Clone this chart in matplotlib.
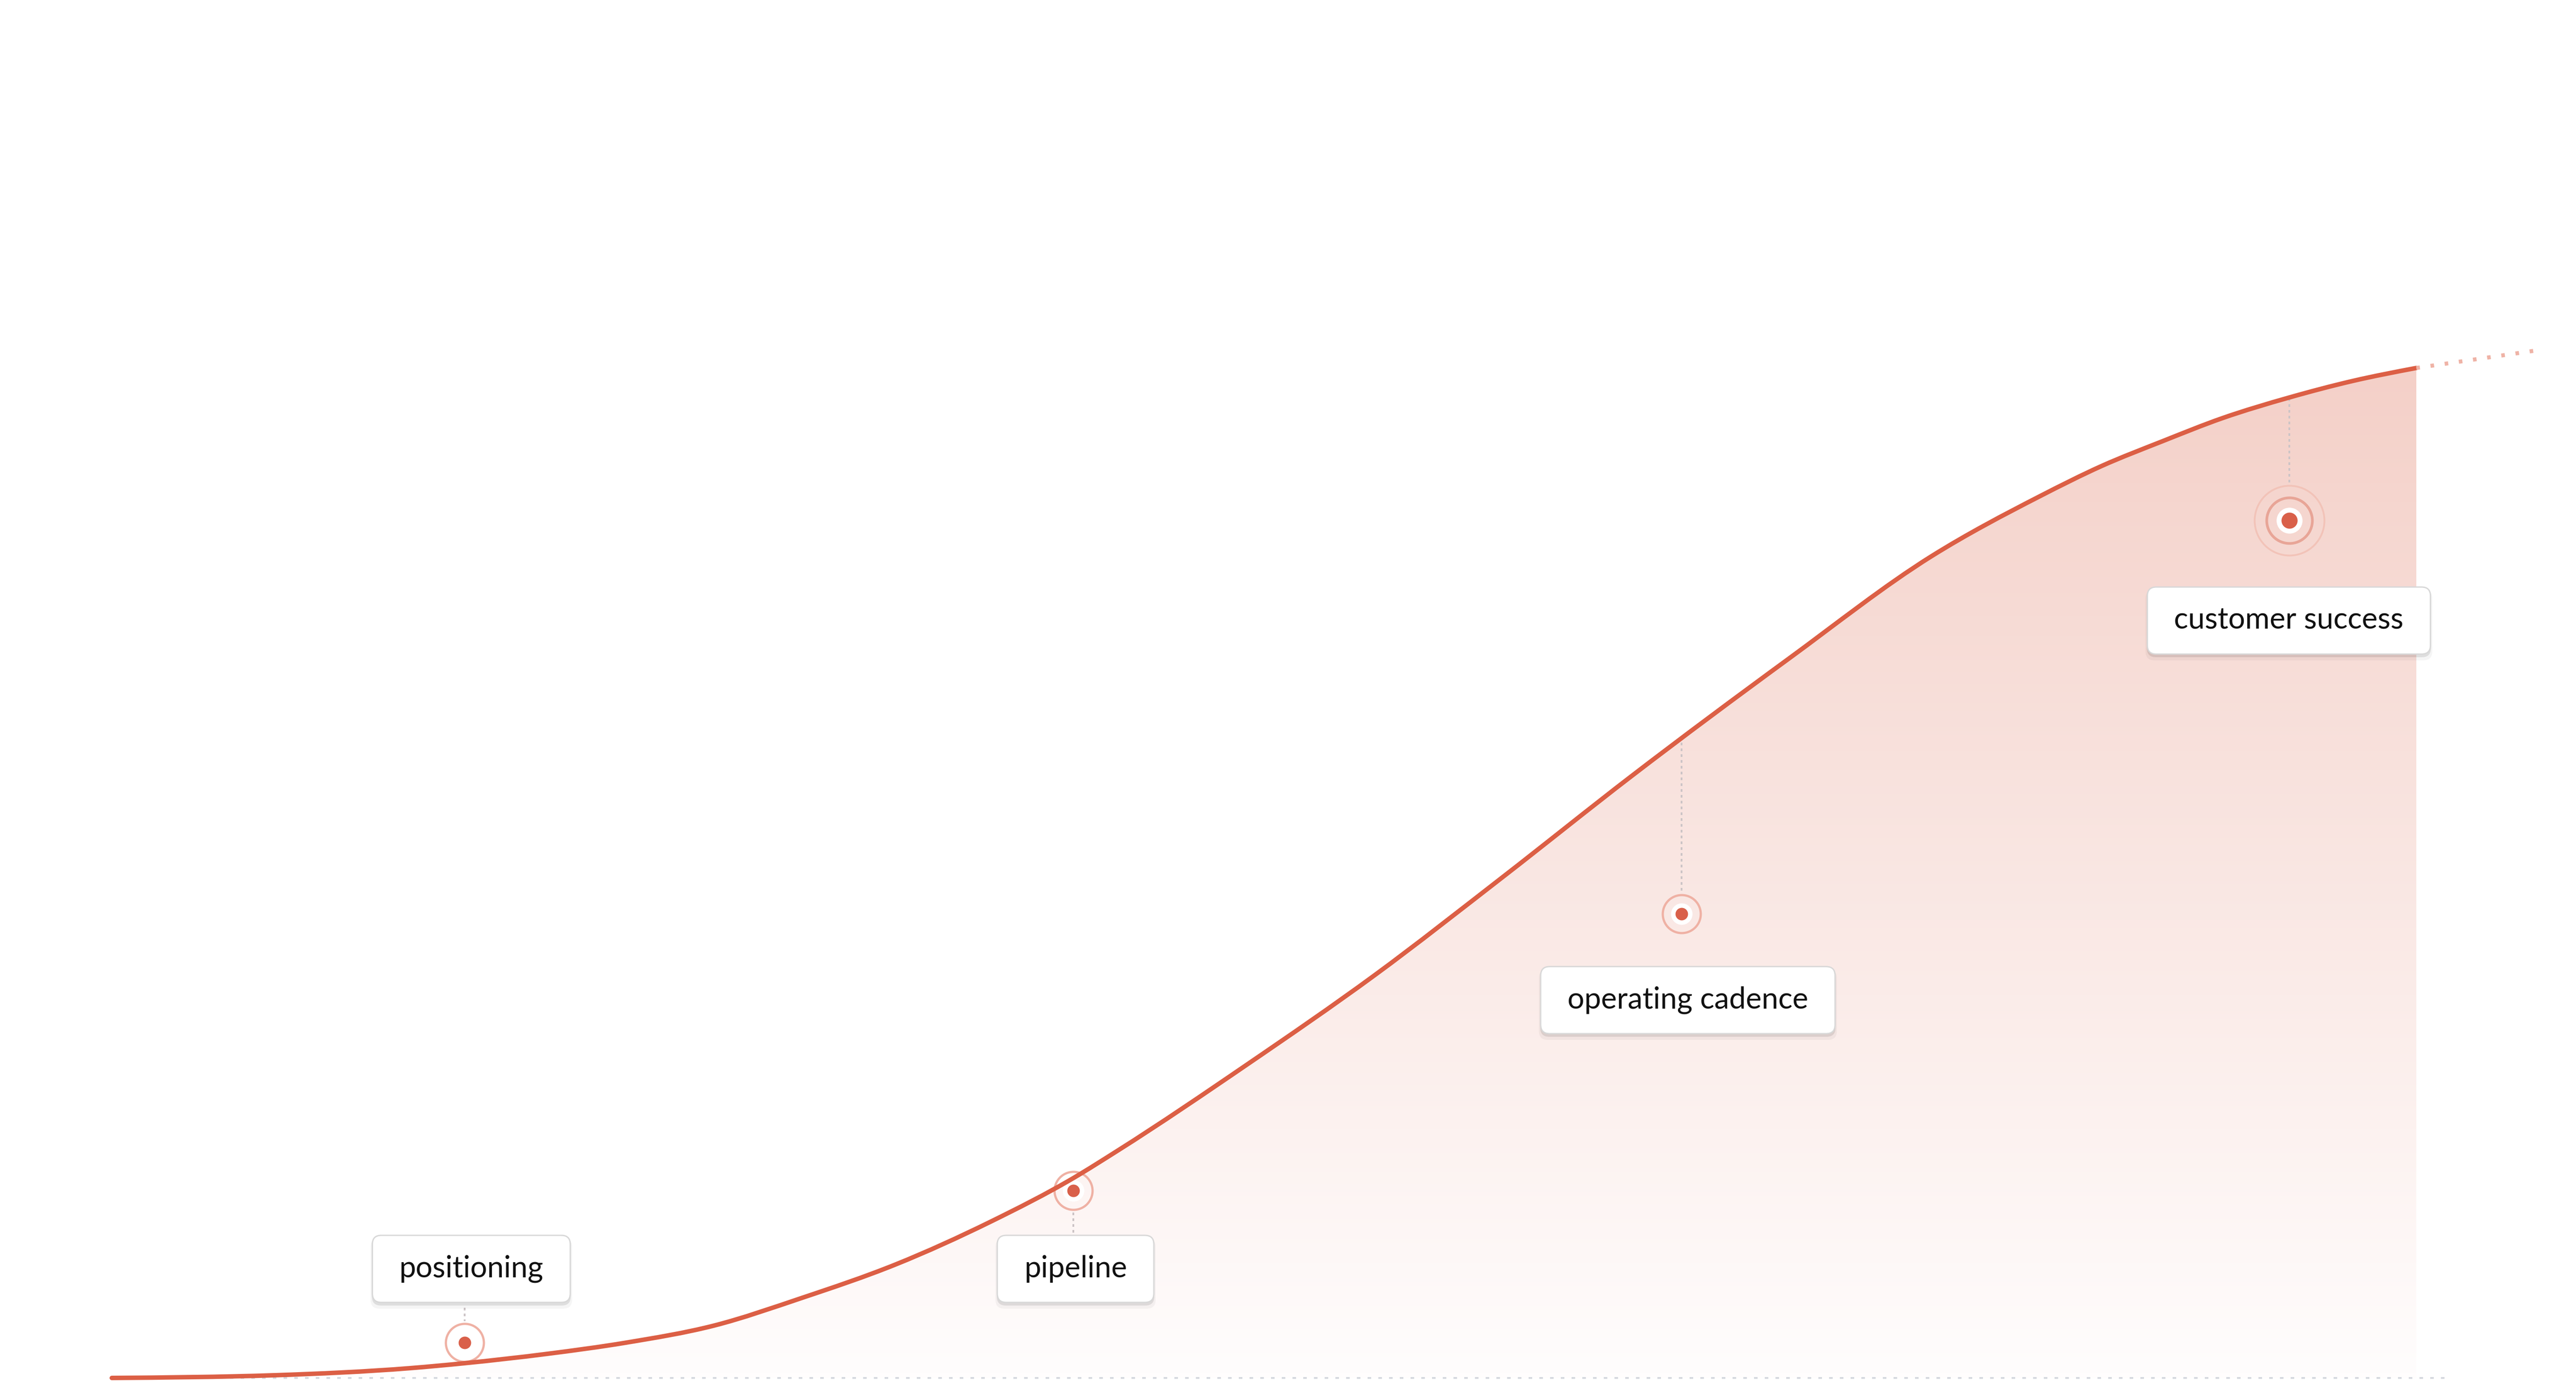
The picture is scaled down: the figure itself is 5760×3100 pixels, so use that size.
import numpy as np
import matplotlib
matplotlib.use("Agg")
import matplotlib.pyplot as plt
from matplotlib.path import Path
from matplotlib.patches import PathPatch, FancyBboxPatch
from matplotlib.transforms import IdentityTransform
from matplotlib.colors import LinearSegmentedColormap

plt.rcParams['font.family'] = ['Lato', 'DejaVu Sans']
plt.rcParams['lines.scale_dashes'] = False

# ---------------- data ----------------
curve_x = [0, 7.025, 12.963, 15.311, 18.902, 22.317, 26.121, 29.944, 34.019,
           38.114, 41.723, 43.664, 49.233, 54.803, 60.373, 65.942, 72.773,
           78.964, 83.660, 86.357, 88.977, 91.597, 94.489, 97.244, 100]
curve_y = [0, 0.266, 0.974, 1.461, 2.390, 3.497, 5.179, 7.924, 11.244,
           15.449, 19.788, 22.532, 30.987, 39.885, 49.624, 59.584, 71.226,
           81.364, 87.296, 90.306, 92.740, 95.042, 97.078, 98.716, 100]

proj_x = [100, 105.1]
proj_y = [100, 101.7]

baseline_x = [0, 101.5]
baseline_y = [0, 0]

labels = ['positioning', 'pipeline', 'operating cadence', 'customer success']
marker_x = [15.31, 41.72, 68.12, 94.49]
marker_y = [3.50, 18.55, 45.95, 84.91]
label_x = [15.60, 41.82, 68.39, 94.47]
label_y = [10.80, 10.80, 37.41, 74.99]
leader_top = [6.95, 16.38, 62.9, 97.0]
leader_bot = [5.62, 14.25, 47.94, 88.53]
highlight = [False, False, False, True]

# ---------------- styling ----------------
W, H = 5760, 3100
DPI = 300
PX = 72.0 / DPI  # points per pixel

LINE = '#DC5F45'
DOT = '#D9604A'
RING = '#EFB1A4'
RING_MID = '#E8A597'
RING_OUT = '#F2C3B8'

fig = plt.figure(figsize=(W / DPI, H / DPI), dpi=DPI)
fig.patch.set_facecolor('white')
ax = fig.add_axes([250 / W, 18 / H, 5153 / W, 2259 / H])
ax.set_xlim(0, 100)
ax.set_ylim(0, 100)
ax.axis('off')


def monotone_tangents(x, y):
    x = np.asarray(x, float)
    y = np.asarray(y, float)
    n = len(x)
    h = np.diff(x)
    s = np.diff(y) / h
    m = np.zeros(n)
    for i in range(1, n - 1):
        p = (s[i - 1] * h[i] + s[i] * h[i - 1]) / (h[i - 1] + h[i])
        m[i] = (np.sign(s[i - 1]) + np.sign(s[i])) * min(abs(s[i - 1]), abs(s[i]), 0.5 * abs(p))
    m[0] = (3 * s[0] - m[1]) / 2
    m[-1] = (3 * s[-1] - m[-2]) / 2
    return m


def bezier_path(x, y):
    m = monotone_tangents(x, y)
    verts = [(x[0], y[0])]
    codes = [Path.MOVETO]
    for i in range(len(x) - 1):
        h = x[i + 1] - x[i]
        verts += [(x[i] + h / 3, y[i] + m[i] * h / 3),
                  (x[i + 1] - h / 3, y[i + 1] - m[i + 1] * h / 3),
                  (x[i + 1], y[i + 1])]
        codes += [Path.CURVE4] * 3
    return verts, codes


verts, codes = bezier_path(curve_x, curve_y)

# gradient fill under the curve
fill_verts = verts + [(curve_x[-1], 0), (curve_x[0], 0), (curve_x[0], 0)]
fill_codes = codes + [Path.LINETO, Path.LINETO, Path.CLOSEPOLY]
fill_patch = PathPatch(Path(fill_verts, fill_codes), facecolor='none',
                       edgecolor='none', transform=ax.transData)
cmap = LinearSegmentedColormap.from_list('g', ['#FFFDFD', '#F4D0C8'])
grad = np.linspace(0, 1, 512).reshape(-1, 1)
im = ax.imshow(grad, extent=[0, 100, 0, 100], origin='lower', cmap=cmap,
               aspect='auto', interpolation='bilinear', zorder=1)
im.set_clip_path(fill_patch)

# dashed baseline
ax.plot(baseline_x, baseline_y, color='#D5D8DE', lw=4 * PX,
        dashes=(8 * PX, 16 * PX), dash_capstyle='butt', zorder=2, clip_on=False)

# leader lines
for x, y0, y1 in zip(marker_x, leader_top, leader_bot):
    ax.plot([x, x], [y0, y1], color='#CCC4C6', lw=4 * PX,
            dashes=(6 * PX, 7 * PX), dash_capstyle='butt', zorder=3, clip_on=False)

# markers
for x, y, hl in zip(marker_x, marker_y, highlight):
    if hl:
        ax.plot([x], [y], 'o', ms=156 * PX, mfc='none', mec=RING_OUT, mew=4 * PX, zorder=3.5, clip_on=False)
        ax.plot([x], [y], 'o', ms=102 * PX, mfc='none', mec=RING_MID, mew=6 * PX, zorder=3.5, clip_on=False)
        ax.plot([x], [y], 'o', ms=58 * PX, mfc='white', mec='none', zorder=3.6, clip_on=False)
        ax.plot([x], [y], 'o', ms=36 * PX, mfc=DOT, mec='none', zorder=3.7, clip_on=False)
    else:
        ax.plot([x], [y], 'o', ms=85 * PX, mfc='none', mec=RING, mew=5 * PX, zorder=3.5, clip_on=False)
        ax.plot([x], [y], 'o', ms=48 * PX, mfc='white', mec='none', zorder=3.6, clip_on=False)
        ax.plot([x], [y], 'o', ms=28 * PX, mfc=DOT, mec='none', zorder=3.7, clip_on=False)

# main curve
ax.add_patch(PathPatch(Path(verts, codes), facecolor='none', edgecolor=LINE,
                       lw=10 * PX, capstyle='round', joinstyle='round', zorder=4,
                       clip_on=False))

# projection (dotted)
ax.plot(proj_x, proj_y, color='#EFB3A6', lw=9 * PX, dashes=(8 * PX, 24 * PX),
        dash_capstyle='butt', zorder=4, clip_on=False)

# labels with rounded boxes
renderer = fig.canvas.get_renderer()
for txt, lx, ly in zip(labels, label_x, label_y):
    t = ax.text(lx, ly, txt, fontsize=16, color='#111111', ha='center',
                va='center', zorder=12, clip_on=False)
    bb = t.get_window_extent(renderer=renderer)
    cx, cy = ax.transData.transform((lx, ly))
    bw = bb.width + 2 * 60
    bh = 150
    x0, y0 = cx - bw / 2, cy - bh / 2
    for dy, grow, a in [(-10, 4, 0.04), (-6, 1, 0.09)]:
        sh = FancyBboxPatch((x0 - grow, y0 + dy - grow), bw + 2 * grow, bh + 2 * grow,
                            boxstyle='round,pad=0,rounding_size=20',
                            facecolor='black', edgecolor='none', alpha=a,
                            transform=IdentityTransform(), zorder=10)
        sh.set_clip_on(False)
        ax.add_artist(sh)
    box = FancyBboxPatch((x0, y0), bw, bh, boxstyle='round,pad=0,rounding_size=20',
                         facecolor='white', edgecolor='#D8D8D8', lw=3 * PX,
                         transform=IdentityTransform(), zorder=11)
    box.set_clip_on(False)
    ax.add_artist(box)

fig.savefig('out.png', dpi=DPI, facecolor='white')
